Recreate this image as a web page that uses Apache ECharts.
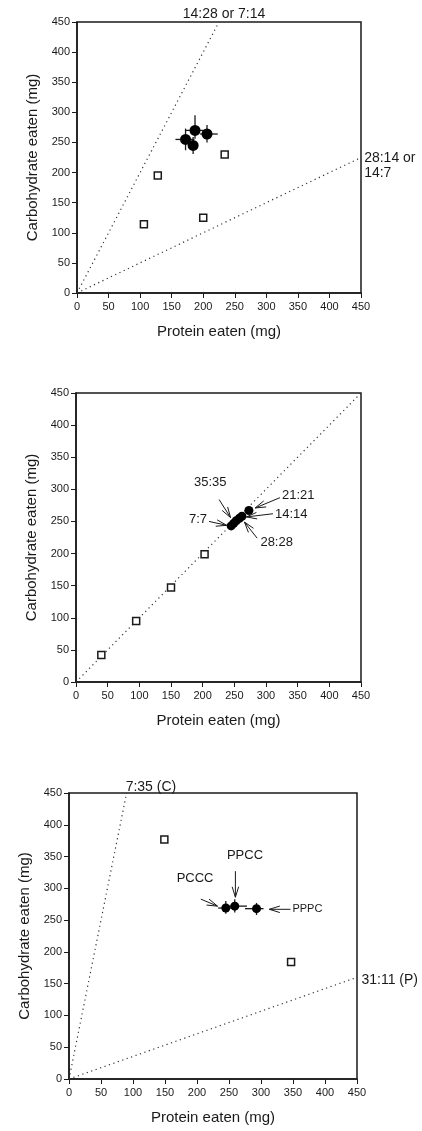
<!DOCTYPE html>
<html>
<head>
<meta charset="utf-8">
<script src="https://cdn.jsdelivr.net/npm/echarts@6/dist/echarts.min.js"></script>
<style>
    html, body {margin: 0; background: #fff;}
    #main {width: 422px; height: 1131px;}
</style>
</head>
<body>
<div id="main"></div>
<script>
// 面板1: 饮食对 14:28 / 28:14
let p1Means = [[172, 255], [187, 270], [184, 245], [206, 264]];
let p1XErr = [[156, 186], [172, 200], [177, 192], [195, 223]];
let p1YErr = [[237, 273], [256, 295], [231, 259], [250, 279]];
let p1Squares = [[106, 114], [128, 195], [200, 125], [234, 230]];
let p1Rails = [[[0, 0], [225, 450]], [[0, 0], [450, 225]]];
let p1RailLabels = [[233, 463, '14:28 or 7:14', 'center'], [455, 212, '28:14 or\n14:7', 'left']];

// 面板2: 1:1 饮食
let p2Squares = [[40, 42], [95, 95], [150, 147], [203, 199]];
let p2Means = [[245, 243], [249, 247], [253, 251], [258, 255], [262, 258], [273, 267]];
let p2Rail = [[0, 0], [450, 450]];
let p2Notes = [
    // text, textX, textY, align, tailX, tailY, headX, headY, fontSize
    ['35:35', 212, 298, 'center', 226, 284, 244, 256, 13],
    ['7:7', 210, 253, 'right', 210, 250, 238, 244, 13],
    ['21:21', 322, 291, 'left', 322, 287, 283, 271, 13],
    ['14:14', 311, 261, 'left', 311, 262, 269, 257, 13],
    ['28:28', 288, 217, 'left', 286, 224, 266, 249, 13]
];

// 面板3: 7:35 (C) / 31:11 (P)
let p3Squares = [[149, 377], [347, 184]];
let p3Means = [[245, 269], [259, 272], [293, 268]];
let p3XErr = [[233, 257], [240, 278], [275, 304]];
let p3YErr = [[260, 280], [262, 283], [258, 277]];
let p3Rails = [[[0, 0], [90, 450]], [[0, 0], [450, 160]]];
let p3RailLabels = [[128, 460, '7:35 (C)', 'center'], [457, 156, '31:11 (P)', 'left']];
let p3Notes = [
    ['PPCC', 275, 339, 'center', 260, 327, 260, 286, 13],
    ['PCCC', 197, 303, 'center', 206, 283, 232, 272, 13],
    ['PPPC', 346, 267, 'left', 346, 267, 313, 267, 11]
];

const FONT = '"Liberation Sans", Arial, sans-serif';
const INK = '#1a1a1a';

let grids = [
    {left: 77, top: 22, width: 284, height: 271},
    {left: 76, top: 393, width: 285, height: 289},
    {left: 69, top: 793, width: 288, height: 286}
];

function xAxisOf(i) {
    return {
        gridIndex: i, type: 'value', min: 0, max: 450, interval: 50,
        name: 'Protein eaten (mg)', nameLocation: 'middle', nameGap: 31,
        nameTextStyle: {fontSize: 15, color: INK, fontFamily: FONT},
        axisLine: {show: true, onZero: false, lineStyle: {color: INK, width: 1.5}},
        axisTick: {show: true, length: 5, lineStyle: {color: INK}},
        axisLabel: {fontSize: 11, color: INK, fontFamily: FONT, margin: 8},
        splitLine: {show: false}
    };
}

function yAxisOf(i) {
    return {
        gridIndex: i, type: 'value', min: 0, max: 450, interval: 50,
        name: 'Carbohydrate eaten (mg)', nameLocation: 'middle', nameGap: 36,
        nameTextStyle: {fontSize: 15, color: INK, fontFamily: FONT},
        axisLine: {show: true, onZero: false, lineStyle: {color: INK, width: 1.5}},
        axisTick: {show: true, length: 5, lineStyle: {color: INK}},
        axisLabel: {fontSize: 11, color: INK, fontFamily: FONT, margin: 7},
        splitLine: {show: false}
    };
}

function rail(i, pts) {
    return {
        type: 'line', xAxisIndex: i, yAxisIndex: i, data: pts, symbol: 'none',
        lineStyle: {color: '#333', width: 1.2, type: [1.2, 3.5]}, silent: true, z: 1
    };
}

function squares(i, pts) {
    return {
        type: 'scatter', xAxisIndex: i, yAxisIndex: i, data: pts, symbol: 'rect', symbolSize: 7,
        itemStyle: {color: '#fff', borderColor: INK, borderWidth: 1.5, opacity: 1}, z: 3
    };
}

function dots(i, pts, size) {
    return {
        type: 'scatter', xAxisIndex: i, yAxisIndex: i, data: pts, symbol: 'circle', symbolSize: size,
        itemStyle: {color: '#000', opacity: 1}, z: 5
    };
}

// 误差线
function errorBars(i, means, xe, ye) {
    let data = means.map((m, k) => [m[0], m[1], xe[k][0], xe[k][1], ye[k][0], ye[k][1]]);
    return {
        type: 'custom', xAxisIndex: i, yAxisIndex: i, data: data, z: 4,
        encode: {x: 0, y: 1},
        renderItem: function (params, api) {
            let x = api.value(0), y = api.value(1);
            let a = api.coord([api.value(2), y]), b = api.coord([api.value(3), y]);
            let c = api.coord([x, api.value(4)]), d = api.coord([x, api.value(5)]);
            let st = {stroke: INK, lineWidth: 1.3};
            return {type: 'group', children: [
                {type: 'line', shape: {x1: a[0], y1: a[1], x2: b[0], y2: b[1]}, style: st},
                {type: 'line', shape: {x1: c[0], y1: c[1], x2: d[0], y2: d[1]}, style: st}
            ]};
        }
    };
}

// 文字标注
function labels(i, list) {
    return {
        type: 'custom', xAxisIndex: i, yAxisIndex: i, clip: false, silent: true, z: 6,
        data: list.map(l => [l[0], l[1]]),
        encode: {x: 0, y: 1},
        renderItem: function (params, api) {
            let l = list[params.dataIndex];
            let p = api.coord([api.value(0), api.value(1)]);
            return {type: 'text', x: p[0], y: p[1], style: {
                text: l[2], fill: INK, font: '14px ' + FONT, align: l[3], verticalAlign: 'middle', lineHeight: 15
            }};
        }
    };
}

// 箭头 + 文字
function arrows(i, notes) {
    return {
        type: 'custom', xAxisIndex: i, yAxisIndex: i, clip: false, silent: true, z: 6,
        data: notes.map(n => [n[1], n[2], n[4], n[5], n[6], n[7]]),
        encode: {x: 0, y: 1},
        renderItem: function (params, api) {
            let n = notes[params.dataIndex];
            let t = api.coord([api.value(0), api.value(1)]);
            let s = api.coord([api.value(2), api.value(3)]);
            let h = api.coord([api.value(4), api.value(5)]);
            let ang = Math.atan2(s[1] - h[1], s[0] - h[0]);
            let len = 11, spread = 0.3;
            let st = {stroke: INK, lineWidth: 1};
            let kids = [
                {type: 'line', shape: {x1: s[0], y1: s[1], x2: h[0], y2: h[1]}, style: st},
                {type: 'line', shape: {x1: h[0], y1: h[1], x2: h[0] + len * Math.cos(ang + spread), y2: h[1] + len * Math.sin(ang + spread)}, style: st},
                {type: 'line', shape: {x1: h[0], y1: h[1], x2: h[0] + len * Math.cos(ang - spread), y2: h[1] + len * Math.sin(ang - spread)}, style: st}
            ];
            let off = n[3] === 'left' ? 2 : (n[3] === 'right' ? -2 : 0);
            let vy = n[3] === 'center' ? -8 : 0;
            kids.push({type: 'text', x: t[0] + off, y: t[1] + vy, style: {
                text: n[0], fill: INK, font: n[8] + 'px ' + FONT, align: n[3], verticalAlign: 'middle'
            }});
            return {type: 'group', children: kids};
        }
    };
}

let myChart = echarts.init(document.getElementById('main'));
let option = {
    backgroundColor: '#fff',
    animation: false,
    grid: grids.map(g => Object.assign({show: true, borderColor: INK, borderWidth: 1.5, backgroundColor: 'transparent'}, g)),
    xAxis: [xAxisOf(0), xAxisOf(1), xAxisOf(2)],
    yAxis: [yAxisOf(0), yAxisOf(1), yAxisOf(2)],
    series: [
        rail(0, p1Rails[0]), rail(0, p1Rails[1]),
        squares(0, p1Squares),
        errorBars(0, p1Means, p1XErr, p1YErr),
        dots(0, p1Means, 11),
        labels(0, p1RailLabels),

        rail(1, p2Rail),
        squares(1, p2Squares),
        dots(1, p2Means, 9),
        arrows(1, p2Notes),

        rail(2, p3Rails[0]), rail(2, p3Rails[1]),
        squares(2, p3Squares),
        errorBars(2, p3Means, p3XErr, p3YErr),
        dots(2, p3Means, 9),
        labels(2, p3RailLabels),
        arrows(2, p3Notes)
    ]
};
myChart.setOption(option);
</script>
</body>
</html>
